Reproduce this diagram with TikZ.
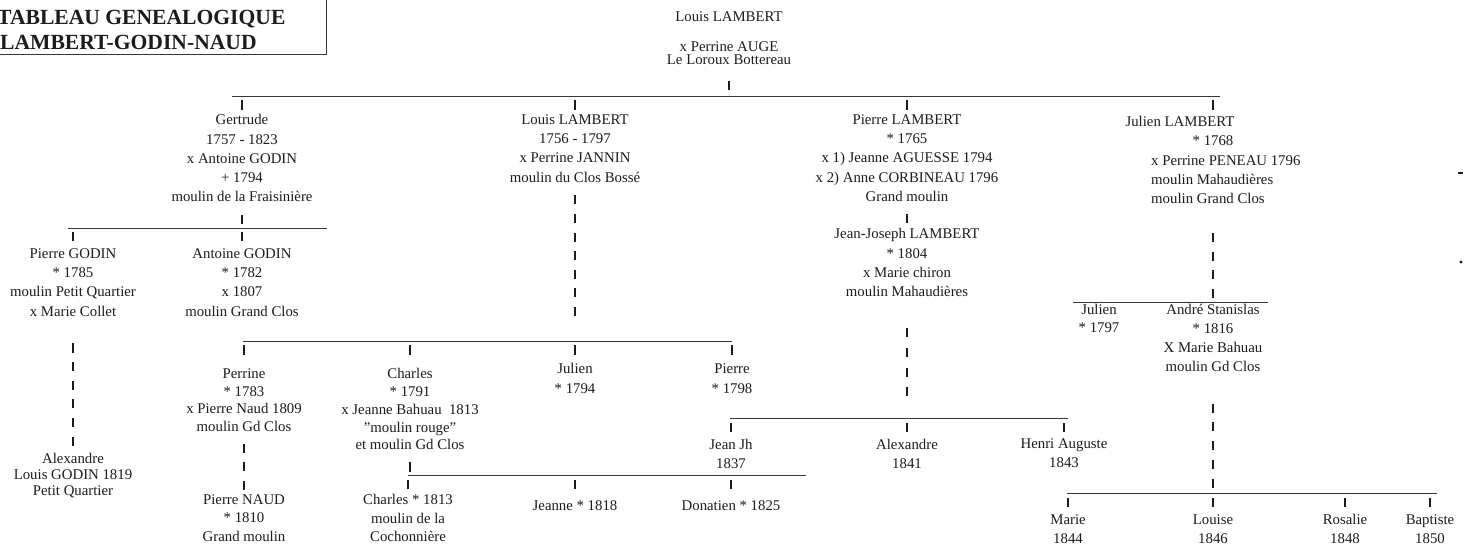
\documentclass[tikz,border=0pt]{standalone}
\usepackage{fontspec}
\setmainfont{Liberation Serif}
\definecolor{ink}{RGB}{28,28,28}
\definecolor{rulec}{RGB}{55,55,55}
\tikzset{
  txt/.style={inner sep=0pt, text=ink, font=\fontsize{14.8}{19.3}\selectfont},
  person/.style={txt, align=center, anchor=north, yshift=8.7pt,
    execute at begin node={\vrule height 13.5pt depth 0pt width 0pt}},
  lefttxt/.style={txt, anchor=north west, yshift=8.7pt,
    execute at begin node={\vrule height 13.5pt depth 0pt width 0pt}},
  title/.style={inner sep=0pt, text=ink, font=\fontsize{21.6}{26}\selectfont\bfseries, anchor=base west},
  busline/.style={draw=rulec, line width=0.9pt},
  tickline/.style={draw=ink, line width=1.4pt},
}
\begin{document}
\begin{tikzpicture}[x=1pt,y=-1pt]
\useasboundingbox[fill=white] (0,0) rectangle (1470,553);

% ---------- title ----------
\node[title] (t1) at (-3,25) {TABLEAU GENEALOGIQUE};
\node[title] (t2) at (0,50) {LAMBERT-GODIN-NAUD};
\draw[busline] (0,54) -- (326,54) -- (326,0);

% ---------- generation 1 ----------
\node[person] (topA) at (729,17) {Louis LAMBERT};
\node[person] (topB) at (729,47) {x Perrine AUGE};
\node[person] (topC) at (729,60) {Le Loroux Bottereau};
\draw[tickline] (topC |- 0,81) -- (topC |- 0,90);
\coordinate (busAl) at (232,96);
\coordinate (busAr) at (1220,96);
\draw[busline] (busAl) -- (busAr);

% ---------- generation 2 ----------
\node[person] (gert) at (242,123) {Gertrude\\1757 - 1823\\x Antoine GODIN\\+ 1794\\moulin de la Fraisinière};
\node[person] (louisB) at (575,123) {Louis LAMBERT\\1756 - 1797\\x Perrine JANNIN\\moulin du Clos Bossé};
\node[person] (pierreB) at (907,123) {Pierre LAMBERT\\* 1765\\x 1) Jeanne AGUESSE 1794\\x 2) Anne CORBINEAU 1796\\Grand moulin};
\node[person] (julA) at (1180,122) {Julien LAMBERT};
\node[person] (julB) at (1213,141) {* 1768};
\node[lefttxt] (julC) at (1151,161) {x Perrine PENEAU 1796};
\node[lefttxt] (julD) at (1151,180) {moulin Mahaudières};
\node[lefttxt] (julE) at (1151,199) {moulin Grand Clos};
\foreach \n in {gert,louisB,pierreB,julB}
  \draw[tickline] (\n |- 0,100) -- (\n |- 0,110);

% ---------- Gertrude's branch ----------
\draw[tickline] (gert |- 0,215) -- (gert |- 0,224);
\node[person] (pgodin) at (73,257) {Pierre GODIN\\* 1785\\moulin Petit Quartier\\x Marie Collet};
\node[person] (agodin) at (242,257) {Antoine GODIN\\* 1782\\x 1807\\moulin Grand Clos};
\draw[busline] (68,228) -- (327,228);
\foreach \n in {pgodin,agodin}
  \draw[tickline] (\n |- 0,232) -- (\n |- 0,241);
\node[person, font=\fontsize{14.8}{16}\selectfont] (alexA) at (73,462) {Alexandre\\Louis GODIN 1819\\Petit Quartier};
\draw[tickline, dash pattern=on 9pt off 9.6pt] (pgodin |- 0,343.5) -- (alexA |- 0,445.5);

% ---------- Antoine GODIN x Perrine / Louis LAMBERT children ----------
\draw[tickline, dash pattern=on 9pt off 9.6pt] (louisB |- 0,195.5) -- (louisB |- 0,316.1);
\node[person, font=\fontsize{14.8}{17.8}\selectfont] (perrine) at (244,377) {Perrine\\* 1783\\x Pierre Naud 1809\\moulin Gd Clos};
\node[person, font=\fontsize{14.8}{17.8}\selectfont] (charles) at (410,377) {Charles\\* 1791\\x Jeanne Bahuau~ 1813\\\char34 moulin rouge\char34\\et moulin Gd Clos};
\node[person, font=\fontsize{14.8}{20}\selectfont] (julienC) at (575,372) {Julien\\* 1794};
\node[person, font=\fontsize{14.8}{20}\selectfont] (pierreC) at (732,372) {Pierre\\* 1798};
\draw[busline] (243,341) -- (732,341);
\foreach \n in {perrine,charles,julienC,pierreC}
  \draw[tickline] (\n |- 0,345) -- (\n |- 0,355);

% Perrine -> Pierre NAUD
\node[person, font=\fontsize{14.8}{18.5}\selectfont] (pnaud) at (244,503) {Pierre NAUD\\* 1810\\Grand moulin};
\draw[tickline, dash pattern=on 9pt off 9.5pt] (perrine |- 0,443.5) -- (pnaud |- 0,489.5);

% Charles -> children
\draw[tickline] (charles |- 0,462) -- (charles |- 0,472);
\draw[busline] (408,475) -- (806,475);
\node[person, font=\fontsize{14.8}{18.5}\selectfont] (charlesD) at (408,503) {Charles * 1813\\moulin de la\\Cochonnière};
\node[person] (jeanne) at (575,505) {Jeanne * 1818};
\node[person] (donatien) at (731,505) {Donatien * 1825};
\foreach \n in {charlesD,jeanne,donatien}
  \draw[tickline] (\n |- 0,480) -- (\n |- 0,489);

% ---------- Pierre LAMBERT's branch ----------
\draw[tickline] (pierreB |- 0,214) -- (pierreB |- 0,223);
\node[person] (jj) at (907,237) {Jean-Joseph LAMBERT\\* 1804\\x Marie chiron\\moulin Mahaudières};
\draw[tickline, dash pattern=on 9pt off 10.5pt] (jj |- 0,328.5) -- (jj |- 0,396);
\draw[busline] (730,418) -- (1068,418);
\node[person, font=\fontsize{14.8}{19}\selectfont] (jeanjh) at (731,448) {Jean Jh\\1837};
\node[person, font=\fontsize{14.8}{19}\selectfont] (alexB) at (907,448) {Alexandre\\1841};
\node[person, font=\fontsize{14.8}{19}\selectfont] (henri) at (1064,447) {Henri Auguste\\1843};
\foreach \n in {jeanjh,alexB,henri}
  \draw[tickline] (\n |- 0,423) -- (\n |- 0,432);

% ---------- Julien LAMBERT's branch ----------
\draw[tickline, dash pattern=on 9pt off 9.5pt] (julB |- 0,233.5) -- (julB |- 0,298);
\draw[busline] (1073,302) -- (1268,302);
\node[person, font=\fontsize{14.8}{18}\selectfont] (julienD) at (1099,313) {Julien\\* 1797};
\node[person, font=\fontsize{14.8}{19}\selectfont] (andre) at (1213,313) {André Stanislas\\* 1816\\X Marie Bahuau\\moulin Gd Clos};
\draw[tickline, dash pattern=on 9pt off 9.8pt] (andre |- 0,403.5) -- (andre |- 0,487.7);
\draw[busline] (1067,493) -- (1437,493);
\node[person, font=\fontsize{14.8}{19}\selectfont] (marie) at (1068,523) {Marie\\1844};
\node[person, font=\fontsize{14.8}{19}\selectfont] (louise) at (1213,523) {Louise\\1846};
\node[person, font=\fontsize{14.8}{19}\selectfont] (rosalie) at (1345,523) {Rosalie\\1848};
\node[person, font=\fontsize{14.8}{19}\selectfont] (baptiste) at (1430,523) {Baptiste\\1850};
\foreach \n in {marie,louise,rosalie,baptiste}
  \draw[tickline] (\n |- 0,498) -- (\n |- 0,507);

% ---------- scan specks at the right margin ----------
\fill[ink] (1458,172) rectangle (1463,174);
\fill[ink] (1461,262) circle (1.6);
\end{tikzpicture}
\end{document}
